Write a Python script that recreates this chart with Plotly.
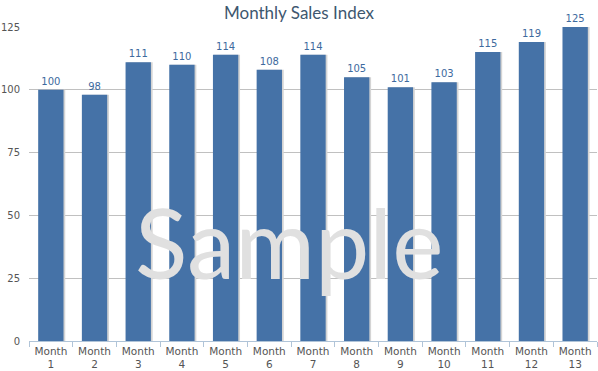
import plotly.graph_objects as go

categories = [f"Month<br>{i}" for i in range(1, 14)]
values = [100, 98, 111, 110, 114, 108, 114, 105, 101, 103, 115, 119, 125]
y_ticks = [0, 25, 50, 75, 100, 125]

bar_w = 0.58
fig = go.Figure()
# shadow
fig.add_trace(go.Bar(
    x=categories, y=values, width=bar_w + 0.02, offset=-bar_w / 2 + 0.02,
    marker=dict(color="#d4d4d4", line=dict(width=0)), hoverinfo="skip", showlegend=False,
))
fig.add_trace(go.Bar(
    x=categories, y=values, width=bar_w, offset=-bar_w / 2,
    marker=dict(color="#4572a7", line=dict(width=0)),
    text=[str(v) for v in values], textposition="outside", cliponaxis=False,
    textfont=dict(family="DejaVu Sans", size=10, color="#3d6a9e"),
    showlegend=False,
))

fig.add_annotation(
    text="Sample", x=0.457, y=0.125, xref="paper", yref="paper",
    showarrow=False, font=dict(family="Lato", size=97, color="#e0e0e0"),
)

fig.update_layout(
    width=598, height=371,
    margin=dict(l=27, r=1, t=27, b=28),
    paper_bgcolor="white", plot_bgcolor="white",
    barmode="overlay",
    title=dict(text="Monthly Sales Index", x=0.5, xanchor="center", y=0.982, yanchor="top",
               font=dict(family="Lato", size=17, color="#3e576f")),
    xaxis=dict(
        showgrid=False, showline=True, linecolor="#b0c4d8", linewidth=1,
        ticks="outside", tickson="boundaries", ticklen=5, tickcolor="#b0c4d8",
        tickfont=dict(family="DejaVu Sans", size=10.5, color="#555555"),
    ),
    yaxis=dict(
        range=[0, 125], tickvals=y_ticks, showgrid=True, gridcolor="#c0c0c0", gridwidth=1,
        zeroline=False, showline=False, ticks="", ticklabelstandoff=8,
        tickfont=dict(family="DejaVu Sans", size=10, color="#555555"),
    ),
)

fig.write_html("out.html")
